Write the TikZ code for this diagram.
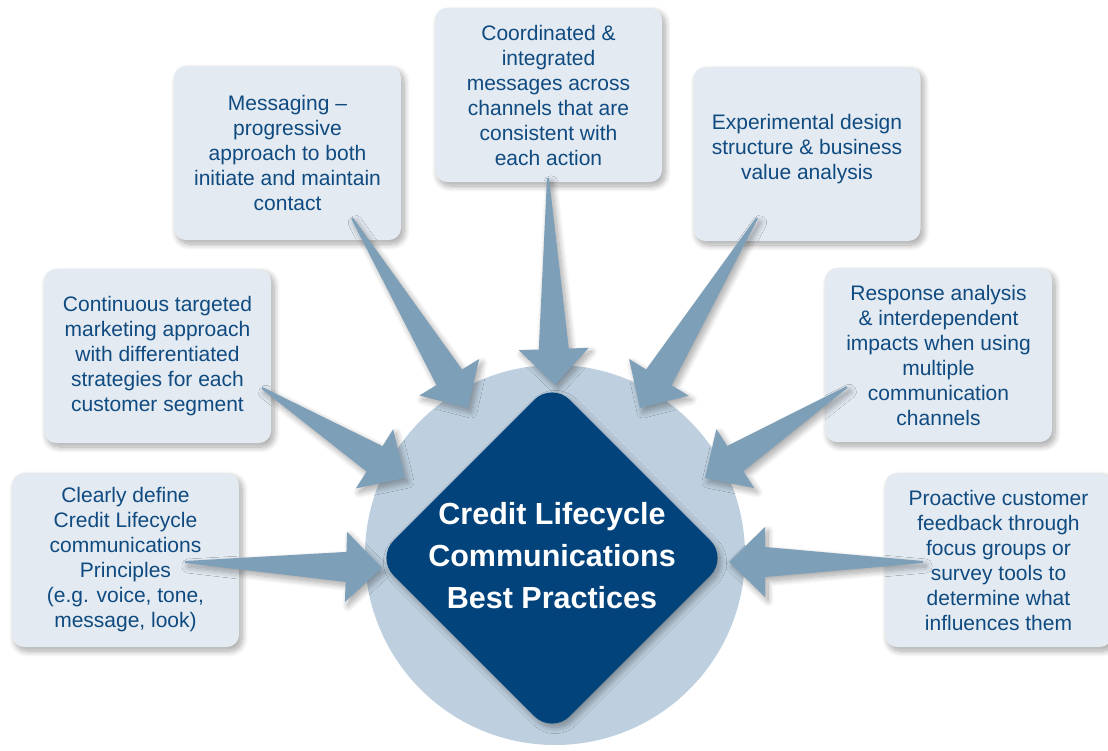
\documentclass[tikz,border=0pt]{standalone}
\usepackage{fontspec}
\setmainfont{Liberation Sans}
\usetikzlibrary{calc,shapes.geometric,shadows.blur}
\definecolor{boxfill}{HTML}{E3EAF1}
\definecolor{txtblue}{HTML}{0F4A80}
\definecolor{arrowblue}{HTML}{7E9FB8}
\definecolor{circlefill}{HTML}{BED0DF}
\definecolor{navy}{HTML}{03437B}
\tikzset{
  softshadow/.style={blur shadow={shadow xshift=3pt, shadow yshift=-4pt, shadow blur radius=6pt, shadow blur steps=12, shadow opacity=35}},
  infobox/.style={rectangle, rounded corners=12pt, fill=boxfill, minimum width=227pt, minimum height=174pt,
    text=txtblue, align=center, font=\fontsize{21}{25}\selectfont, inner sep=0pt, softshadow},
  boxtext/.style={text=txtblue, align=center, font=\fontsize{21}{25}\selectfont, inner sep=0pt},
  arr/.style={fill=arrowblue, softshadow},
}
\newcommand\fatarrow[3]{%
  \coordinate (#3h) at ($(#2)!36pt!(#1)$);
  \fill[arr] ($(#1)!1pt!90:(#2)$) -- ($(#3h)!15pt!-90:(#1)$) -- ($(#3h)!35pt!-90:(#1)$) -- (#2)
    -- ($(#3h)!35pt!90:(#1)$) -- ($(#3h)!15pt!90:(#1)$) -- ($(#1)!1pt!-90:(#2)$) -- cycle;}
\begin{document}
\begin{tikzpicture}[x=1pt,y=-1pt]
\useasboundingbox (0,0) rectangle (1108,750);
\node[circle, fill=circlefill, minimum size=380pt, inner sep=0pt] (hub) at (555,555) {};
\node[diamond, aspect=1, fill=navy, minimum width=352pt, minimum height=352pt, inner sep=0pt, rounded corners=25pt, softshadow] (core) at (552,558) {};
\node[font=\fontsize{30.5}{42}\selectfont\bfseries, text=white, align=center] (coretext) at (552,556)
  {Credit Lifecycle\\Communications\\Best Practices};

\node[infobox] (b1) at (125.5,560) {Clearly define\\Credit Lifecycle\\communications\\Principles\\(e.g. voice, tone,\\message, look)};
\node[infobox] (b2) at (157.5,356) {Continuous targeted\\marketing approach\\with differentiated\\strategies for each\\customer segment};
\node[infobox] (b3) at (287.5,153) {Messaging –\\progressive\\approach to both\\initiate and maintain\\contact};
\node[infobox] (b4) at (548.5,95) {Coordinated \&\\integrated\\messages across\\channels that are\\consistent with\\each action};
\node[infobox] (b5) at (807,154) {};
\node[boxtext] (b5t) at (807,149) {Experimental design\\structure \& business\\value analysis};
\node[infobox] (b6) at (938.5,355) {Response analysis\\\& interdependent\\impacts when using\\multiple\\communication\\channels};
\node[infobox] (b7) at (998.5,560) {Proactive customer\\feedback through\\focus groups or\\survey tools to\\determine what\\influences them};

\coordinate (t1) at (185,562);  \coordinate (p1) at (382,568);
\coordinate (t2) at (262,388);  \coordinate (p2) at (405,478);
\coordinate (t3) at (352,218);  \coordinate (p3) at (468,408);
\coordinate (t4) at (548,178);  \coordinate (p4) at (555,385);
\coordinate (t5) at (757,218);  \coordinate (p5) at (640,408);
\coordinate (t6) at (847,387);  \coordinate (p6) at (705,478);
\coordinate (t7) at (923,562);  \coordinate (p7) at (729,562);
\fatarrow{t1}{p1}{a1}
\fatarrow{t2}{p2}{a2}
\fatarrow{t3}{p3}{a3}
\fatarrow{t4}{p4}{a4}
\fatarrow{t5}{p5}{a5}
\fatarrow{t6}{p6}{a6}
\fatarrow{t7}{p7}{a7}
\end{tikzpicture}
\end{document}
